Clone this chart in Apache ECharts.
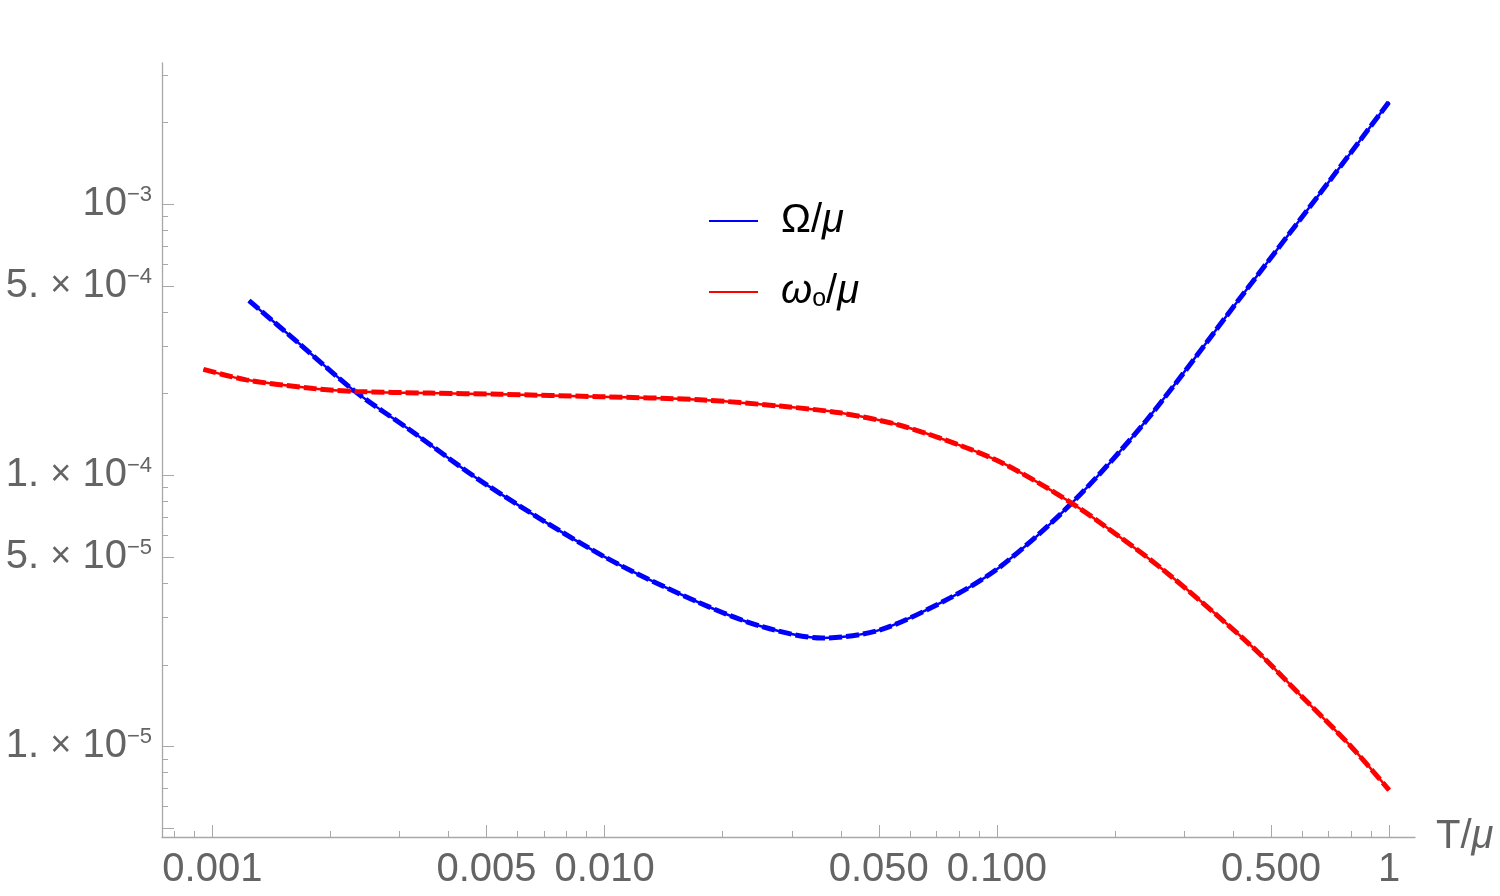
<!DOCTYPE html>
<html><head><meta charset="utf-8">
<script src="https://cdn.jsdelivr.net/npm/echarts@6/dist/echarts.min.js"></script>
<style>html,body{margin:0;padding:0;background:#fff}#c{width:1500px;height:896px}</style>
</head><body><div id="c"></div>
<script>
// Ω/μ  (blue)
const omegaT = [0.00124, 0.00167, 0.00231, 0.00319, 0.00496, 0.0100, 0.0175, 0.0249, 0.0358, 0.0504, 0.0760, 0.102, 0.155, 0.241, 0.417, 0.714, 1.0];
const omegaV = [4.41e-4, 3.05e-4, 2.04e-4, 1.47e-4, 9.3e-5, 5.0e-5, 3.38e-5, 2.78e-5, 2.51e-5, 2.69e-5, 3.53e-5, 4.60e-5, 7.88e-5, 1.60e-4, 4.51e-4, 1.25e-3, 2.39e-3];
// ω_o/μ  (red)
const omega0T = [0.000949, 0.00122, 0.00181, 0.00231, 0.00359, 0.00541, 0.00973, 0.0175, 0.0280, 0.0398, 0.0566, 0.0805, 0.102, 0.129, 0.155, 0.183, 0.266, 0.442, 0.593, 0.794, 1.0];
const omega0V = [2.46e-4, 2.25e-4, 2.09e-4, 2.04e-4, 2.01e-4, 1.99e-4, 1.95e-4, 1.90e-4, 1.80e-4, 1.70e-4, 1.53e-4, 1.29e-4, 1.12e-4, 9.3e-5, 7.9e-5, 6.7e-5, 4.47e-5, 2.37e-5, 1.55e-5, 1.01e-5, 6.9e-6];

const xMajorTicks = [0.001, 0.005, 0.01, 0.05, 0.1, 0.5, 1];
const xMajorLabels = ['0.001', '0.005', '0.010', '0.050', '0.100', '0.500', '1'];
const xMinorTicks = [0.0008, 0.0009, 0.002, 0.003, 0.004, 0.006, 0.007, 0.008, 0.009, 0.02, 0.03, 0.04, 0.06, 0.07, 0.08, 0.09, 0.2, 0.3, 0.4, 0.6, 0.7, 0.8, 0.9];
const yMajorTicks = [5e-6, 1e-5, 5e-5, 1e-4, 5e-4, 1e-3];
const yMajorLabels = ['', '{m|1. }{x|×}{m| 10}{s|−5}', '{m|5. }{x|×}{m| 10}{s|−5}', '{m|1. }{x|×}{m| 10}{s|−4}', '{m|5. }{x|×}{m| 10}{s|−4}', '{m|10}{s|−3}'];
const yMinorTicks = [6e-6, 7e-6, 8e-6, 9e-6, 2e-5, 3e-5, 4e-5, 6e-5, 7e-5, 8e-5, 9e-5, 2e-4, 3e-4, 4e-4, 6e-4, 7e-4, 8e-4, 9e-4, 2e-3, 3e-3];

const xRange = [0.000744, 1.164];
const yRange = [4.63e-6, 3.32e-3];

const L = Math.log10;
const FONT = 'Liberation Sans, Arial, sans-serif';
const GRAY = '#646464';
const AXC = '#a8a8a8';

function pairs(ts, vs) { return ts.map((t, i) => [L(t), L(vs[i])]); }
function lookup(ticks, labels) {
  return function (v) {
    for (let i = 0; i < ticks.length; i++) if (Math.abs(L(ticks[i]) - v) < 1e-6) return labels[i];
    return '';
  };
}

const chart = echarts.init(document.getElementById('c'), null, {renderer: 'canvas'});
const baseAxis = (r) => ({type: 'value', min: L(r[0]), max: L(r[1]), splitLine: {show: false}});

chart.setOption({
  animation: false,
  backgroundColor: '#fff',
  grid: {left: 162, right: 85, top: 63, bottom: 59, containLabel: false},
  xAxis: [
    Object.assign(baseAxis(xRange), {
      position: 'bottom',
      axisLine: {show: true, onZero: false, lineStyle: {color: AXC, width: 1.3}},
      axisTick: {show: true, inside: true, length: 12, customValues: xMajorTicks.map(L), lineStyle: {color: AXC, width: 1}},
      axisLabel: {show: true, customValues: xMajorTicks.map(L), formatter: lookup(xMajorTicks, xMajorLabels),
        fontSize: 40, fontFamily: FONT, color: GRAY, margin: 13},
      name: '{n|T/}{i|μ}', nameLocation: 'end', nameGap: 21,
      nameTextStyle: {fontSize: 40, fontFamily: FONT, color: GRAY, verticalAlign: 'middle',
        rich: {n: {fontSize: 40, fontFamily: FONT, color: GRAY}, i: {fontSize: 40, fontFamily: FONT, color: GRAY, fontStyle: 'italic'}}}
    }),
    Object.assign(baseAxis(xRange), {
      position: 'bottom',
      axisLine: {show: false, onZero: false},
      axisTick: {show: true, inside: true, length: 6, customValues: xMinorTicks.map(L), lineStyle: {color: AXC, width: 1}},
      axisLabel: {show: false}
    })
  ],
  yAxis: [
    Object.assign(baseAxis(yRange), {
      position: 'left',
      axisLine: {show: true, onZero: false, lineStyle: {color: AXC, width: 1.3}},
      axisTick: {show: true, inside: true, length: 12, customValues: yMajorTicks.map(L), lineStyle: {color: AXC, width: 1}},
      axisLabel: {show: true, customValues: yMajorTicks.map(L), formatter: lookup(yMajorTicks, yMajorLabels), margin: 10,
        fontSize: 40, fontFamily: FONT, color: GRAY,
        rich: {
          m: {fontSize: 40, lineHeight: 40, fontFamily: FONT, color: GRAY},
          x: {fontSize: 36, lineHeight: 40, fontFamily: FONT, color: GRAY},
          s: {fontSize: 22, lineHeight: 26, fontFamily: FONT, color: GRAY, verticalAlign: 'top'}
        }}
    }),
    Object.assign(baseAxis(yRange), {
      position: 'left',
      axisLine: {show: false, onZero: false},
      axisTick: {show: true, inside: true, length: 6, customValues: yMinorTicks.map(L), lineStyle: {color: AXC, width: 1}},
      axisLabel: {show: false}
    })
  ],
  legend: {
    data: ['Omega', 'omega0'],
    orient: 'vertical', left: 704, top: 196,
    icon: 'rect', itemWidth: 49, itemHeight: 2, itemGap: 31,
    formatter: n => n === 'Omega' ? '{p|}{a|Ω/}{i|μ}' : '{p|}{i|ω}{sub|o}{a|/}{i|μ}',
    textStyle: {fontSize: 40, fontFamily: FONT, color: '#000',
      rich: {
        p: {width: 18, fontSize: 40, lineHeight: 40},
        a: {fontSize: 40, lineHeight: 40, fontFamily: FONT, color: '#000'},
        i: {fontSize: 40, lineHeight: 40, fontFamily: FONT, color: '#000', fontStyle: 'italic'},
        sub: {fontSize: 25, lineHeight: 26, fontFamily: FONT, color: '#000', verticalAlign: 'bottom'}
      }}
  },
  series: [
    {name: 'Omega', type: 'line', data: pairs(omegaT, omegaV), smooth: 0.3, showSymbol: false,
      color: '#0000ff', lineStyle: {color: '#0000ff', width: 2.5}, z: 2},
    {name: 'Omega-d', type: 'line', data: pairs(omegaT, omegaV), smooth: 0.3, showSymbol: false,
      color: '#0000ff', lineStyle: {color: '#0000ff', width: 5, type: [13, 4]}, z: 3},
    {name: 'omega0', type: 'line', data: pairs(omega0T, omega0V), smooth: 0.3, showSymbol: false,
      color: '#ff0000', lineStyle: {color: '#ff0000', width: 2.5}, z: 2},
    {name: 'omega0-d', type: 'line', data: pairs(omega0T, omega0V), smooth: 0.3, showSymbol: false,
      color: '#ff0000', lineStyle: {color: '#ff0000', width: 5, type: [13, 4]}, z: 3}
  ]
});
</script></body></html>
